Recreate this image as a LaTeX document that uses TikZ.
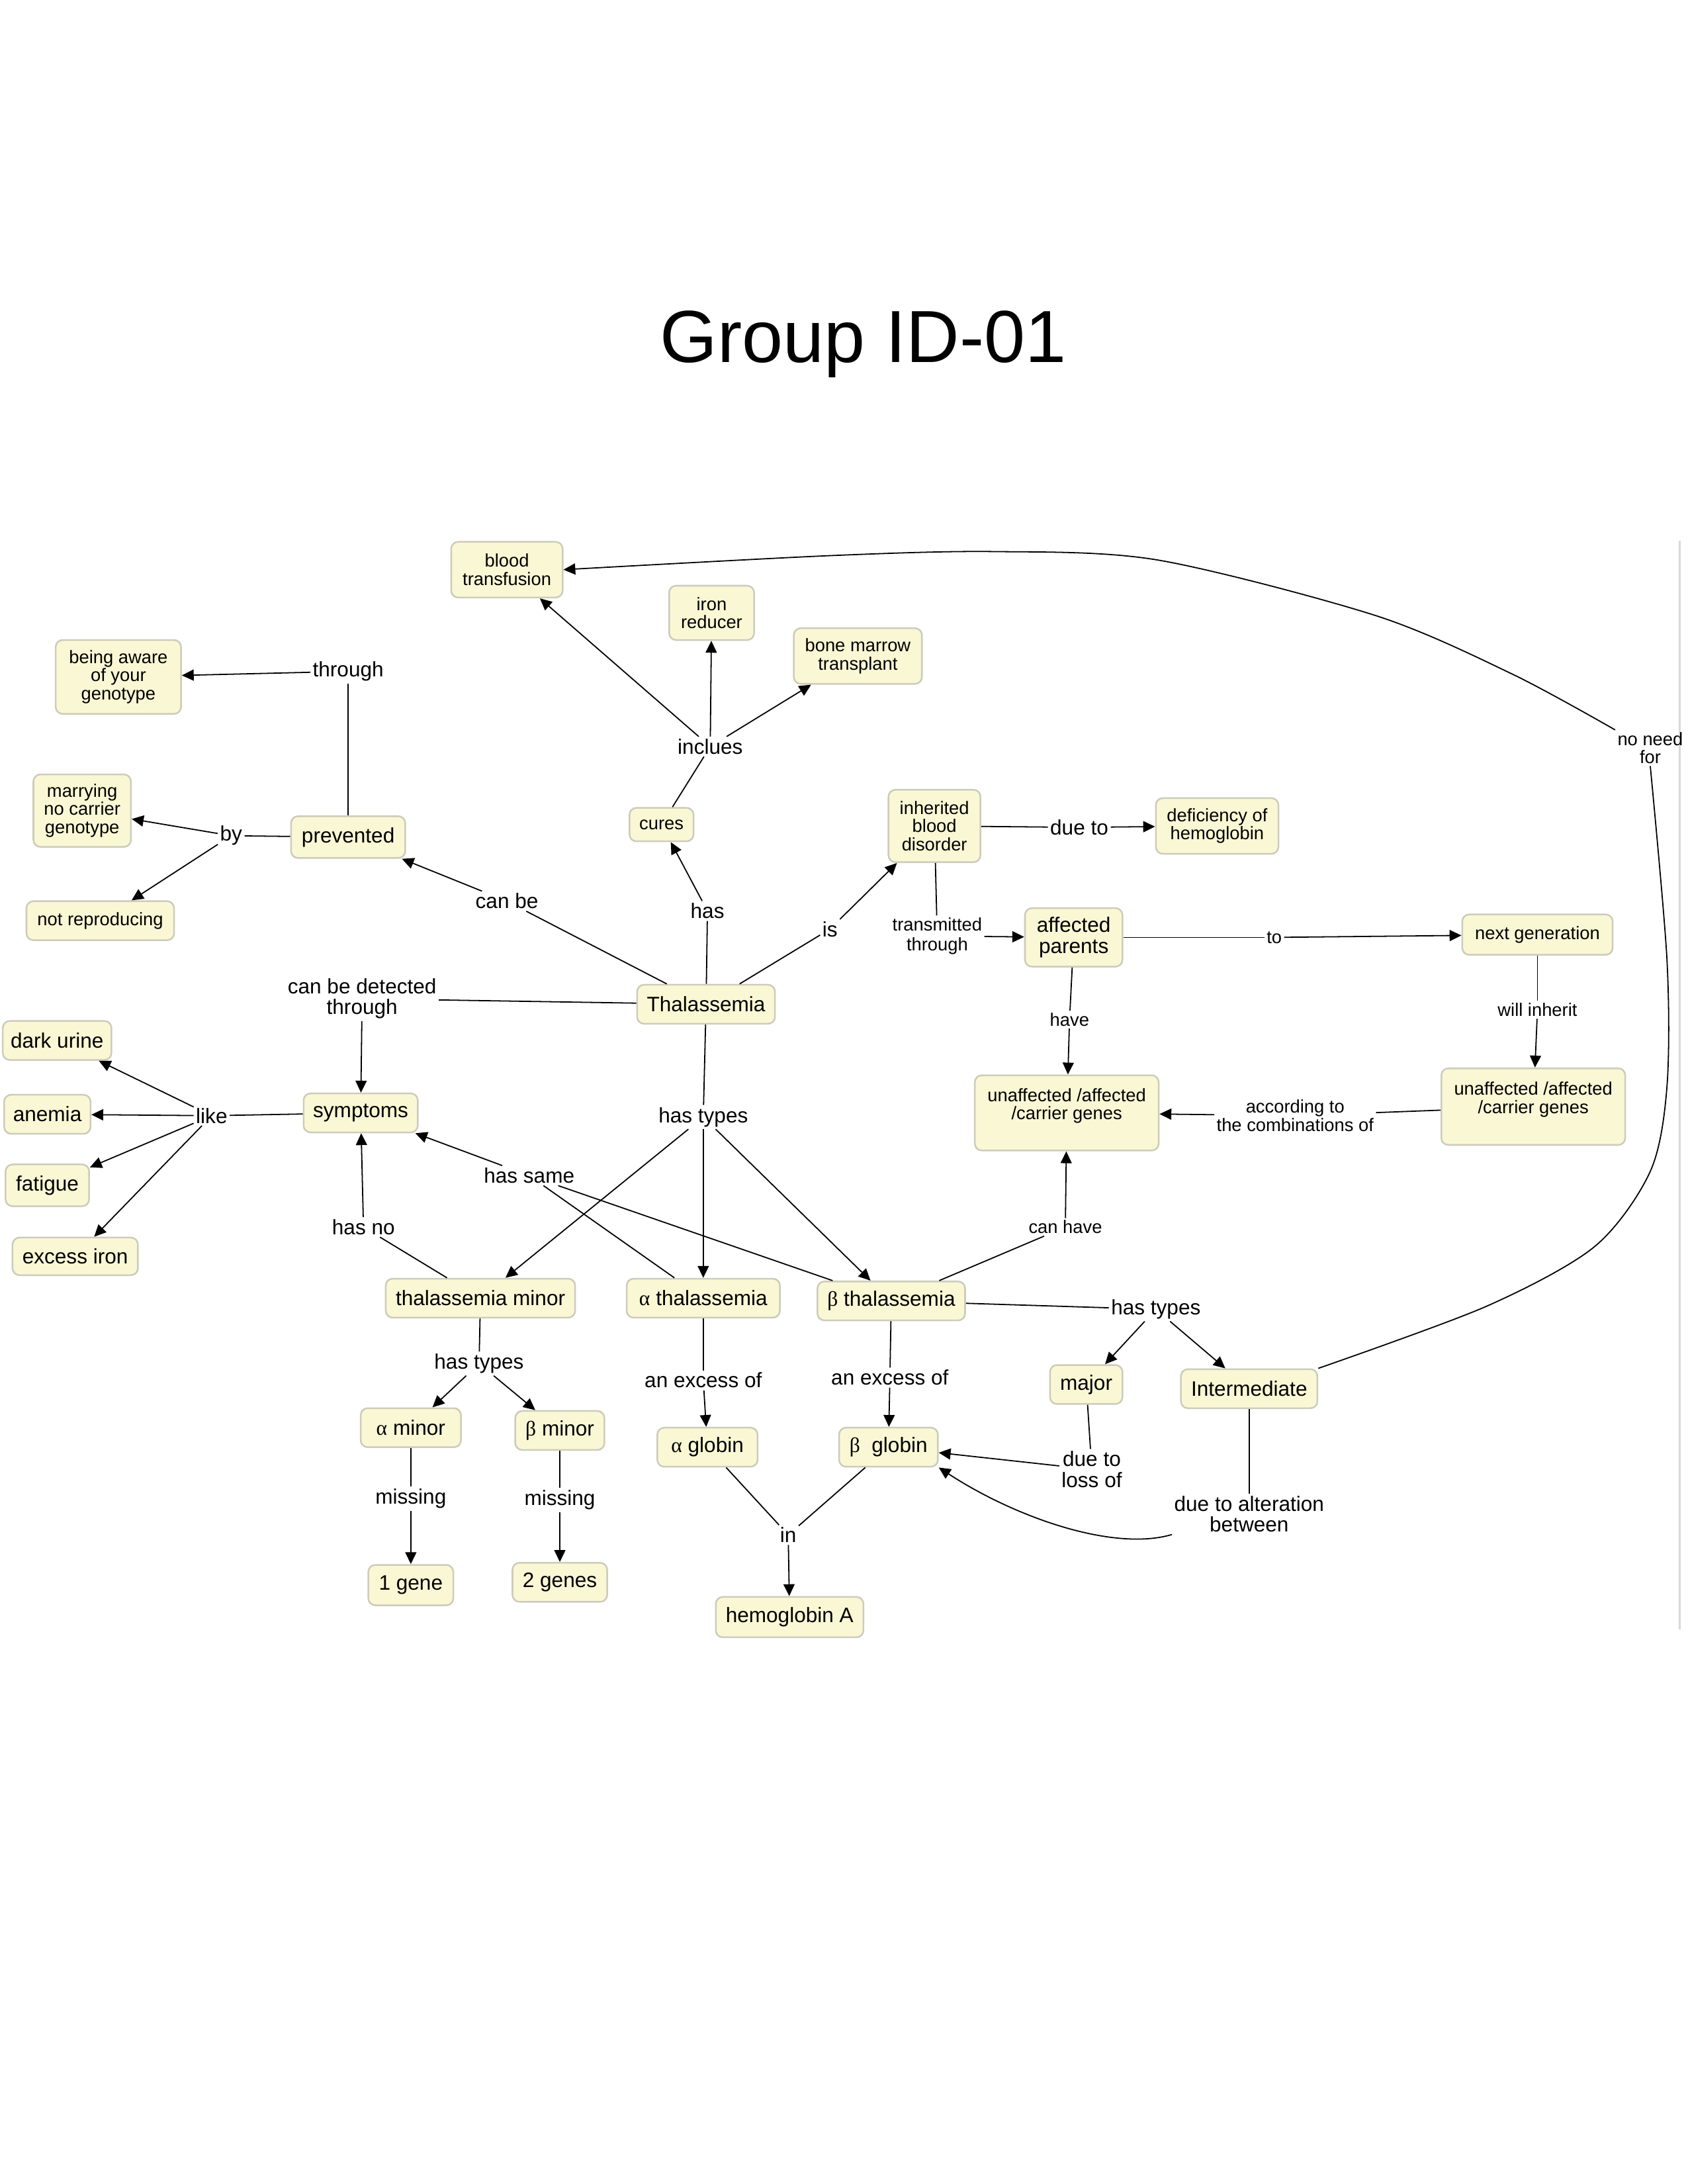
\documentclass[tikz,border=0pt]{standalone}
\usepackage{fontspec}
\setmainfont{Liberation Sans}
\newfontfamily\grfont{Liberation Serif}
\usetikzlibrary{arrows.meta}
\definecolor{conceptfill}{RGB}{250,247,212}
\definecolor{conceptedge}{RGB}{205,204,188}
\begin{document}
\begin{tikzpicture}[x=1pt, y=-1pt,
    concept/.style={draw=conceptedge, line width=1.2pt, fill=conceptfill, rounded corners=5pt, align=center, inner sep=2pt},
    smalltext/.style={font=\fontsize{13}{13}\selectfont},
    bigtext/.style={font=\fontsize{15}{15}\selectfont},
    linkphrase/.style={align=center, inner sep=1.5pt},
    conn/.style={line width=0.85pt},
    arr/.style={conn, -{Triangle[length=8.5pt,width=8pt]}}]

    \useasboundingbox (0,0) rectangle (1212,1568);

    % Title
    \node[font=\fontsize{53}{60}\selectfont, anchor=base] (title) at (620,260) {Group ID-01};

    % faint rule at the right edge
    \draw[gray!30, line width=1.5pt] (1206,388) -- (1206,1170);

    % Concepts (top part)
    \node[concept, smalltext, minimum width=80, minimum height=40] (bt) at (364,409) {blood\\transfusion};
    \node[concept, smalltext, minimum width=61, minimum height=39] (ir) at (511,440) {iron\\reducer};
    \node[concept, smalltext, minimum width=92, minimum height=40] (bm) at (616,471) {bone marrow\\transplant};
    \node[concept, smalltext, minimum width=90, minimum height=53] (aware) at (85,486) {being aware\\of your\\genotype};
    \node[concept, smalltext, minimum width=70, minimum height=52] (marry) at (59,582) {marrying\\no carrier\\genotype};
    \node[concept, bigtext, minimum width=82, minimum height=30] (prev) at (250,601) {prevented};
    \node[concept, smalltext, minimum width=106, minimum height=28] (notrep) at (72,661) {not reproducing};
    \node[concept, smalltext, minimum width=46, minimum height=24] (cures) at (475,592) {cures};
    \node[concept, smalltext, minimum width=66, minimum height=52] (ibd) at (671,593) {inherited\\blood\\disorder};
    \node[concept, smalltext, minimum width=88, minimum height=40] (def) at (874,593) {deficiency of\\hemoglobin};
    \node[concept, bigtext, minimum width=70, minimum height=42] (ap) at (771,673) {affected\\parents};
    \node[concept, smalltext, minimum width=108, minimum height=29] (ng) at (1104,671) {next generation};
    \node[concept, bigtext, minimum width=99, minimum height=28] (thal) at (507,721) {Thalassemia};

    % Concepts (middle part)
    \node[concept, bigtext, minimum width=78, minimum height=28] (du) at (41,747) {dark urine};
    \node[concept, smalltext, minimum width=132, minimum height=54] (ugl) at (766,799) {unaffected /affected\\/carrier genes\\\mbox{}};
    \node[concept, smalltext, minimum width=132, minimum height=55] (ugr) at (1101,794.5) {unaffected /affected\\/carrier genes\\\mbox{}};
    \node[concept, bigtext, minimum width=62, minimum height=28] (anemia) at (34,800) {anemia};
    \node[concept, bigtext, minimum width=82, minimum height=28] (symp) at (259,799) {symptoms};
    \node[concept, bigtext, minimum width=60, minimum height=30] (fat) at (34,851) {fatigue};
    \node[concept, bigtext, minimum width=90, minimum height=27] (ei) at (54,902) {excess iron};
    \node[concept, bigtext, minimum width=136, minimum height=28] (tm) at (345,932) {thalassemia minor};
    \node[concept, bigtext, minimum width=110, minimum height=28] (at) at (505,932) {{\grfont α} thalassemia};
    \node[concept, bigtext, minimum width=106, minimum height=28] (btl) at (640,934) {{\grfont β} thalassemia};

    % Concepts (bottom part)
    \node[concept, bigtext, minimum width=52, minimum height=28] (major) at (780,994) {major};
    \node[concept, bigtext, minimum width=98, minimum height=28] (inter) at (897,997) {Intermediate};
    \node[concept, bigtext, minimum width=72, minimum height=28] (am) at (295,1025) {{\grfont α} minor};
    \node[concept, bigtext, minimum width=64, minimum height=28] (bmi) at (402,1027) {{\grfont β} minor};
    \node[concept, bigtext, minimum width=72, minimum height=28] (ag) at (508,1039) {{\grfont α} globin};
    \node[concept, bigtext, minimum width=71, minimum height=28] (bg) at (638,1039) {{\grfont β}~~globin};
    \node[concept, bigtext, minimum width=61, minimum height=29] (g1) at (295,1138) {1 gene};
    \node[concept, bigtext, minimum width=68, minimum height=28] (g2) at (402,1136) {2 genes};
    \node[concept, bigtext, minimum width=106, minimum height=29] (hba) at (567,1161) {hemoglobin A};

    % Linking phrases
    \node[linkphrase, bigtext] (l_through) at (250,482) {through};
    \node[linkphrase, bigtext] (l_by) at (166,600) {by};
    \node[linkphrase, bigtext] (l_canbe) at (364,647) {can be};
    \node[linkphrase, bigtext] (l_inclues) at (510,536) {inclues};
    \node[linkphrase, bigtext] (l_has) at (508,654) {has};
    \node[linkphrase, bigtext] (l_is) at (596,667) {is};
    \node[linkphrase, bigtext] (l_dueto) at (775,594) {due to};
    \node[linkphrase, font=\fontsize{13}{14}\selectfont] (l_trans) at (673,672) {transmitted\\through};
    \node[linkphrase, smalltext] (l_to) at (915,673) {to};
    \node[linkphrase, smalltext] (l_nn) at (1185,537) {no need\\for};
    \node[linkphrase, bigtext] (l_detect) at (260,717) {can be detected\\through};
    \node[linkphrase, smalltext] (l_have) at (768,732) {have};
    \node[linkphrase, smalltext] (l_will) at (1104,725) {will inherit};
    \node[linkphrase, smalltext] (l_acc) at (930,801) {according to\\the combinations of};
    \node[linkphrase, bigtext] (l_like) at (152,801) {like};
    \node[linkphrase, bigtext] (l_hastypes) at (505,802) {has types};
    \node[linkphrase, bigtext] (l_hassame) at (380,844) {has same};
    \node[linkphrase, bigtext] (l_hasno) at (261,881) {has no};
    \node[linkphrase, smalltext] (l_canhave) at (765,881) {can have};
    \node[linkphrase, bigtext] (l_hastypes2) at (830,940) {has types};
    \node[linkphrase, bigtext] (l_hastypes3) at (344,979) {has types};
    \node[linkphrase, bigtext] (l_excess1) at (505,991) {an excess of};
    \node[linkphrase, bigtext] (l_excess2) at (639,989) {an excess of};
    \node[linkphrase, bigtext] (l_loss) at (784,1055) {due to\\loss of};
    \node[linkphrase, bigtext] (l_miss1) at (295,1076) {missing};
    \node[linkphrase, bigtext] (l_miss2) at (402,1077) {missing};
    \node[linkphrase, bigtext] (l_alter) at (897,1087) {due to alteration\\between};
    \node[linkphrase, bigtext] (l_in) at (566,1102) {in};

    % Treatment branch
    \draw[conn] (cures) -- (l_inclues);
    \draw[arr] (l_inclues) -- (bt);
    \draw[arr] (l_inclues) -- (ir);
    \draw[arr] (l_inclues) -- (bm);
    \draw[conn] (thal) -- (l_has);
    \draw[arr] (l_has) -- (cures);

    % Prevention branch
    \draw[conn] (thal) -- (l_canbe);
    \draw[arr] (l_canbe) -- (prev);
    \draw[conn] (prev) -- (l_through);
    \draw[arr] (l_through) -- (aware);
    \draw[conn] (prev) -- (l_by);
    \draw[arr] (l_by) -- (marry);
    \draw[arr] (l_by) -- (notrep);

    % Inheritance branch
    \draw[conn] (thal) -- (l_is);
    \draw[arr] (l_is) -- (ibd);
    \draw[conn] (ibd) -- (l_dueto);
    \draw[arr] (l_dueto) -- (def);
    \draw[conn] (ibd) -- (l_trans);
    \draw[arr] (l_trans) -- (ap);
    \draw[conn] (ap) -- (l_to);
    \draw[arr] (l_to) -- (ng);
    \draw[conn] (ap) -- (l_have);
    \draw[arr] (l_have) -- (ugl);
    \draw[conn] (ng) -- (l_will);
    \draw[arr] (l_will) -- (ugr);
    \draw[conn] (ugr) -- (l_acc);
    \draw[arr] (l_acc) -- (ugl);

    % Symptoms branch
    \draw[conn] (thal) -- (l_detect);
    \draw[arr] (l_detect) -- (symp);
    \draw[conn] (symp) -- (l_like);
    \draw[arr] (l_like) -- (du);
    \draw[arr] (l_like) -- (anemia);
    \draw[arr] (l_like) -- (fat);
    \draw[arr] (l_like) -- (ei);

    % Types
    \draw[conn] (thal) -- (l_hastypes);
    \draw[arr] (l_hastypes) -- (tm);
    \draw[arr] (l_hastypes) -- (at);
    \draw[arr] (l_hastypes) -- (btl);
    \draw[conn] (at) -- (l_hassame);
    \draw[conn] (btl) -- (l_hassame);
    \draw[arr] (l_hassame) -- (symp);
    \draw[conn] (tm) -- (l_hasno);
    \draw[arr] (l_hasno) -- (symp);
    \draw[conn] (btl) -- (l_canhave);
    \draw[arr] (l_canhave) -- (ugl);

    % Minor types
    \draw[conn] (tm) -- (l_hastypes3);
    \draw[arr] (l_hastypes3) -- (am);
    \draw[arr] (l_hastypes3) -- (bmi);
    \draw[conn] (am) -- (l_miss1);
    \draw[arr] (l_miss1) -- (g1);
    \draw[conn] (bmi) -- (l_miss2);
    \draw[arr] (l_miss2) -- (g2);

    % Globins
    \draw[conn] (at) -- (l_excess1);
    \draw[arr] (l_excess1) -- (ag);
    \draw[conn] (btl) -- (l_excess2);
    \draw[arr] (l_excess2) -- (bg);
    \draw[conn] (ag) -- (l_in);
    \draw[conn] (bg) -- (l_in);
    \draw[arr] (l_in) -- (hba);

    % Beta types
    \draw[conn] (btl) -- (l_hastypes2);
    \draw[arr] (l_hastypes2) -- (major);
    \draw[arr] (l_hastypes2) -- (inter);
    \draw[conn] (major) -- (l_loss);
    \draw[arr] (l_loss) -- (bg);
    \draw[conn] (inter) -- (l_alter);
    \draw[arr] (l_alter.south west) .. controls (800,1114) and (730,1090) .. (bg.south east);

    % Long curve back to blood transfusion
    \draw[conn] plot[smooth] coordinates {(inter.north east) (1067,938) (1145,895) (1185,841) (1197,780) (1197,689) (l_nn.south)};
    \draw[arr] plot[smooth] coordinates {(l_nn.north west) (1086,484) (988,442) (831,402) (713,396) (594,399) (bt.east)};

\end{tikzpicture}
\end{document}
